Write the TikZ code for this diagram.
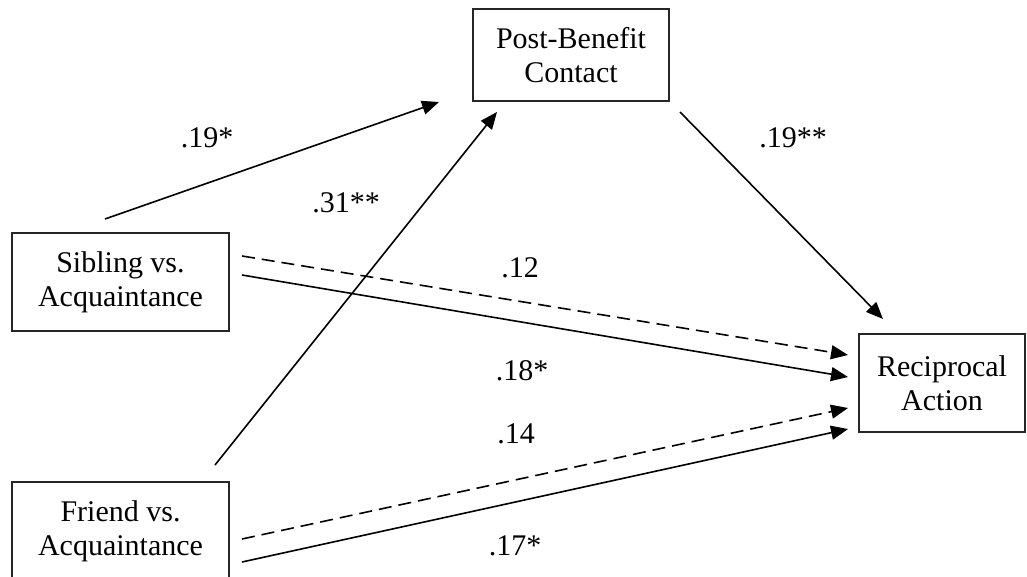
\documentclass[tikz,border=0pt]{standalone}
\usepackage{fontspec}
\setmainfont{Liberation Serif}
\usetikzlibrary{arrows.meta}
\begin{document}
\begin{tikzpicture}[x=1pt,y=-1pt,
  boxnode/.style={draw=black!85,line width=1.8pt,minimum width=#1,minimum height=98pt,inner sep=0pt,align=center,font=\fontsize{30}{34}\selectfont},
  lab/.style={inner sep=0pt,font=\fontsize{30}{34}\selectfont},
  conn/.style={line width=1.6pt,-{Triangle[length=17pt,width=14pt]}},
  dashconn/.style={conn,dash pattern=on 13pt off 7pt}]
\useasboundingbox (0,0) rectangle (1027,577);
\node[boxnode=196pt,minimum height=92pt] (post) at (571,55) {Post-Benefit\\Contact};
\node[boxnode=217pt] (sib) at (120.5,282) {Sibling vs.\\Acquaintance};
\node[boxnode=217pt] (fri) at (120.5,531) {Friend vs.\\Acquaintance};
\node[boxnode=166pt] (rec) at (942,383) {Reciprocal\\Action};
% free ends
\coordinate (a1) at (105,219);
\coordinate (a2) at (439,102);
\coordinate (b1) at (215,465);
\coordinate (b2) at (497,112);
\coordinate (c1) at (680,112);
\coordinate (c2) at (883,319);
\coordinate (d1) at (242,256);
\coordinate (d2) at (848,355);
\coordinate (e1) at (242,275);
\coordinate (e2) at (848,377);
\coordinate (f1) at (242,539);
\coordinate (f2) at (848,408);
\coordinate (g1) at (242,562);
\coordinate (g2) at (848,429);
\draw[conn] (a1) -- (a2);
\draw[conn] (b1) -- (b2);
\draw[conn] (c1) -- (c2);
\draw[dashconn] (d1) -- (d2);
\draw[conn] (e1) -- (e2);
\draw[dashconn] (f1) -- (f2);
\draw[conn] (g1) -- (g2);
\node[lab] (l1) at (207,138) {.19*};
\node[lab] (l2) at (346,203) {.31**};
\node[lab] (l3) at (793,138) {.19**};
\node[lab] (l4) at (520,268) {.12};
\node[lab] (l5) at (522,371) {.18*};
\node[lab] (l6) at (516,434) {.14};
\node[lab] (l7) at (515,546) {.17*};
\end{tikzpicture}
\end{document}
